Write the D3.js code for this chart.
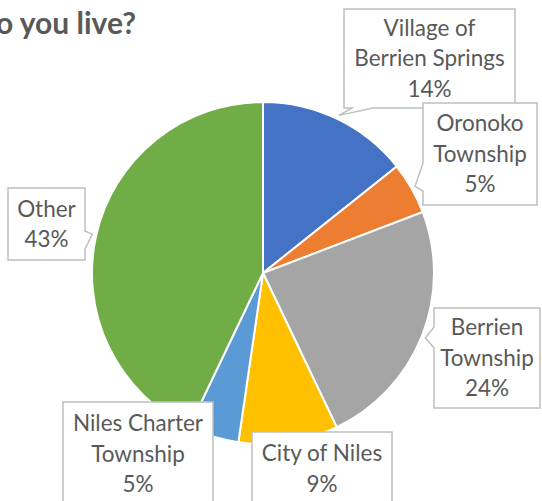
<!DOCTYPE html>
<html>
<head>
<meta charset="utf-8">
<script src="https://cdn.jsdelivr.net/npm/d3@7"></script>
<style>
  body { margin: 0; background: #fff; }
  svg { display: block; }
</style>
</head>
<body>
<div id="chart"></div>
<script>
// data (share of respondents, %)
var title = "Where do you live?";
var categories = ["Village of Berrien Springs", "Oronoko Township", "Berrien Township",
                  "City of Niles", "Niles Charter Township", "Other"];
var labelLines = [["Village of", "Berrien Springs"], ["Oronoko", "Township"], ["Berrien", "Township"],
                  ["City of Niles"], ["Niles Charter", "Township"], ["Other"]];
var values = [14.3, 4.9, 23.7, 9.4, 4.8, 42.9];
var colors = ["#4472C4", "#ED7D31", "#A5A5A5", "#FFC000", "#5B9BD5", "#70AD47"];

// callout boxes (layout only): x, y, w, h and where the pointer leaves the box
var boxes = [
  { x: 344, y: 9,   w: 171, h: 99,  side: "bottom", a1: 8,  a2: 29 },
  { x: 423, y: 103, w: 114, h: 102, side: "left",   a1: 60, a2: 88 },
  { x: 434, y: 308, w: 106, h: 100, side: "left",   a1: 19, a2: 40 },
  { x: 252, y: 432, w: 140, h: 80,  side: null },
  { x: 63,  y: 402, w: 150, h: 110, side: null },
  { x: 8,   y: 188, w: 77,  h: 72,  side: "right",  a1: 43, a2: 61 }
];

var width = 542, height = 501;
var cx = 263, cy = 273, radius = 171;
var textColor = "#595959", boxStroke = "#BFBFBF";

var svg = d3.select("#chart").append("svg")
    .attr("width", width)
    .attr("height", height);

svg.append("text")
    .attr("x", 136)
    .attr("y", 34)
    .attr("text-anchor", "end")
    .style("font-family", "Lato, 'Open Sans', sans-serif")
    .style("font-weight", "bold")
    .style("font-size", "30px")
    .style("fill", textColor)
    .text(title);

var pie = d3.pie().sort(null).value(function(d) { return d; });
var arcs = pie(values);
var total = d3.sum(values);

var arc = d3.arc().innerRadius(0).outerRadius(radius);
var tipArc = d3.arc().innerRadius(radius + 4).outerRadius(radius + 4);

var g = svg.append("g").attr("transform", "translate(" + cx + "," + cy + ")");

g.selectAll(".slice")
    .data(arcs)
  .enter().append("path")
    .attr("class", "slice")
    .attr("d", arc)
    .style("fill", function(d, i) { return colors[i]; })
    .style("stroke", "#fff")
    .style("stroke-width", 2);

function calloutPath(b, tip) {
    var x = b.x, y = b.y, w = b.w, h = b.h;
    var pts = [];
    if (b.side === "left") {
        pts = [[x, y], [x + w, y], [x + w, y + h], [x, y + h], [x, y + b.a2], tip, [x, y + b.a1]];
    } else if (b.side === "right") {
        pts = [[x, y], [x + w, y], [x + w, y + b.a1], tip, [x + w, y + b.a2], [x + w, y + h], [x, y + h]];
    } else if (b.side === "bottom") {
        pts = [[x, y], [x + w, y], [x + w, y + h], [x + b.a2, y + h], tip, [x + b.a1, y + h], [x, y + h]];
    } else {
        pts = [[x, y], [x + w, y], [x + w, y + h], [x, y + h]];
    }
    return "M" + pts.map(function(p) { return p[0] + "," + p[1]; }).join("L") + "Z";
}

var labels = svg.selectAll(".label")
    .data(arcs)
  .enter().append("g")
    .attr("class", "label");

labels.append("path")
    .attr("d", function(d, i) {
        var c = tipArc.centroid(d);
        return calloutPath(boxes[i], [cx + c[0], cy + c[1]]);
    })
    .style("fill", "#fff")
    .style("stroke", boxStroke)
    .style("stroke-width", 1.5);

var lineH = 30.5;
labels.each(function(d, i) {
    var b = boxes[i];
    var lines = labelLines[i].concat([Math.round(d.value / total * 100) + "%"]);
    var top = b.y + (b.side === null ? 6 : (b.h - lines.length * lineH) / 2);
    var t = d3.select(this).append("text")
        .attr("text-anchor", "middle")
        .style("font-family", "Lato, 'Open Sans', sans-serif")
        .style("font-size", "22.5px")
        .style("fill", textColor);
    lines.forEach(function(s, k) {
        t.append("tspan")
            .attr("x", b.x + b.w / 2)
            .attr("y", top + k * lineH + 23)
            .text(s);
    });
});
</script>
</body>
</html>
